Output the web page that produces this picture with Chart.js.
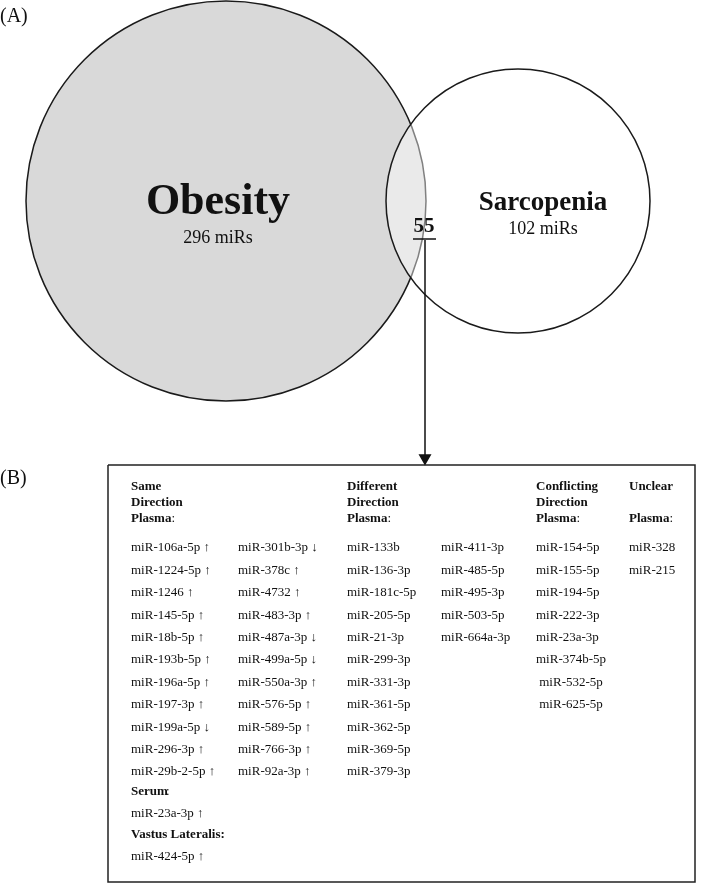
<!DOCTYPE html><html><head><meta charset="utf-8">
<script src="https://cdn.jsdelivr.net/npm/chart.js@4"></script>
<style>html,body{margin:0;padding:0;background:#fff}#w{width:709px;height:888px}</style></head><body><div id="w"><canvas id="c"></canvas></div>
<script>
const setNames=["Obesity","Sarcopenia"];
const setCounts=["296 miRs","102 miRs"];
const overlapCount="55";
const sameCol1=["miR-106a-5p ↑","miR-1224-5p ↑","miR-1246 ↑","miR-145-5p ↑","miR-18b-5p ↑","miR-193b-5p ↑","miR-196a-5p ↑","miR-197-3p ↑","miR-199a-5p ↓","miR-296-3p ↑","miR-29b-2-5p ↑"];
const sameCol2=["miR-301b-3p ↓","miR-378c ↑","miR-4732 ↑","miR-483-3p ↑","miR-487a-3p ↓","miR-499a-5p ↓","miR-550a-3p ↑","miR-576-5p ↑","miR-589-5p ↑","miR-766-3p ↑","miR-92a-3p ↑"];
const serum=["miR-23a-3p ↑"];
const vastus=["miR-424-5p ↑"];
const diffCol1=["miR-133b","miR-136-3p","miR-181c-5p","miR-205-5p","miR-21-3p","miR-299-3p","miR-331-3p","miR-361-5p","miR-362-5p","miR-369-5p","miR-379-3p"];
const diffCol2=["miR-411-3p","miR-485-5p","miR-495-3p","miR-503-5p","miR-664a-3p"];
const conflicting=["miR-154-5p","miR-155-5p","miR-194-5p","miR-222-3p","miR-23a-3p","miR-374b-5p"," miR-532-5p"," miR-625-5p"];
const unclear=["miR-328","miR-215"];

const F='"Liberation Serif","DejaVu Serif",serif';
const textPlugin={id:'txt',afterDatasetsDraw(ch){
 const c=ch.ctx,xs=ch.scales.x,ys=ch.scales.y;
 const X=v=>xs.getPixelForValue(v),Y=v=>ys.getPixelForValue(v);
 function t(s,x,y,size,bold,align){c.font=(bold?'bold ':'')+size+'px '+F;c.textAlign=align||'left';c.textBaseline='middle';c.fillStyle='#111';c.fillText(s,X(x),Y(y));}
 c.save();
 t("(A)",0,17,20,false);t("(B)",0,479,20,false);
 t(setNames[0],218,203,44,true,'center');t(setCounts[0],218,238,18,false,'center');
 t(setNames[1],543,203,27,true,'center');t(setCounts[1],543,229,18,false,'center');
 t(overlapCount,424,227,21,true,'center');
 c.strokeStyle='#111';c.lineWidth=1.5;c.beginPath();c.moveTo(X(413),Y(239));c.lineTo(X(436),Y(239));c.stroke();
 const hdr=[[131,["Same","Direction","Plasma:"]],[347,["Different","Direction","Plasma:"]],[536,["Conflicting","Direction","Plasma:"]],[629,["Unclear","","Plasma:"]]];
 hdr.forEach(([x,ls])=>ls.forEach((s,i)=>{if(!s)return;t(s.replace(':',''),x,487+i*16,13,true);if(s.endsWith(':')){c.font='bold 13px '+F;const w=c.measureText(s.replace(':','')).width;c.font='13px '+F;c.textAlign='left';c.fillText(':',X(x)+w,Y(487+i*16));}}));
 const step=22.4,y0=548;
 const col=(arr,x)=>arr.forEach((s,i)=>t(s,x,y0+i*step,13,false));
 col(sameCol1,131);col(sameCol2,238);col(diffCol1,347);col(diffCol2,441);col(conflicting,536);col(unclear,629);
 t("Serum",131,792,13,true);c.font='13px '+F;c.fillText(':',X(131)+c.measureText('Serum').width+1,Y(792));
 t(serum[0],131,814,13,false);
 t("Vastus Lateralis:",131,835,13,true);
 t(vastus[0],131,857,13,false);
 c.restore();
}};
new Chart(document.getElementById('c'),{
 data:{datasets:[
  {type:'bubble',data:[{x:226,y:201,r:200}],backgroundColor:'#d9d9d9',borderColor:'#1a1a1a',borderWidth:1.5,order:3,clip:false},
  {type:'bubble',data:[{x:518,y:201,r:132}],backgroundColor:'rgba(255,255,255,0.45)',borderColor:'#1a1a1a',borderWidth:1.5,order:2,clip:false},
  {type:'line',data:[{x:425,y:240},{x:425,y:458}],borderColor:'#111',borderWidth:1.5,pointRadius:[0,6],pointStyle:'triangle',pointRotation:180,pointBackgroundColor:'#111',pointBorderColor:'#111',order:1,clip:false},
  {type:'line',data:[{x:108,y:465},{x:695,y:465},{x:695,y:882},{x:108,y:882},{x:108,y:465}],borderColor:'#222',borderWidth:1.5,pointRadius:0,order:1,clip:false}
 ]},
 options:{responsive:true,maintainAspectRatio:false,animation:false,layout:{padding:0,autoPadding:false},
  plugins:{legend:{display:false},tooltip:{enabled:false}},
  scales:{x:{type:'linear',min:0,max:709,display:false},y:{type:'linear',min:0,max:888,reverse:true,display:false}}},
 plugins:[textPlugin]
});
</script></body></html>
